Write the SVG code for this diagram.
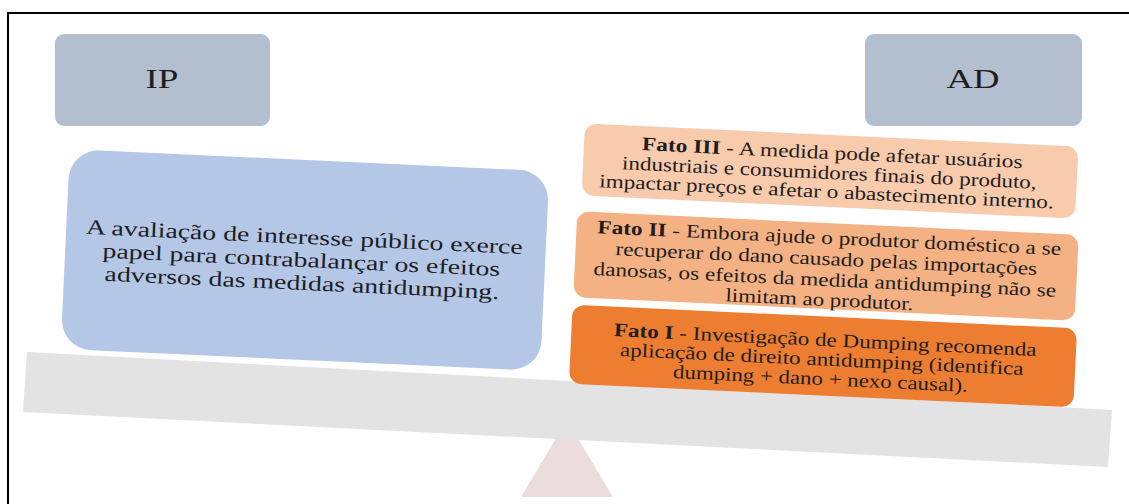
<svg xmlns="http://www.w3.org/2000/svg" width="1129" height="504" viewBox="0 0 1129 504">
<style>
.t{font-family:"Liberation Serif","Times New Roman",serif;fill:#1e1e1e}
.hdr{fill:#b3bfcf}
.f{font-size:19px}
.b{font-weight:bold}
</style>
<rect width="1129" height="504" fill="#ffffff"/>
<path d="M8 504 V13 H1129" fill="none" stroke="#000" stroke-width="2"/>
<g id="fulcrum">
<polygon points="567,420 613,497 521,497" fill="#eddcdc"/>
</g>
<g id="beam">
<polygon points="27,352 1112,410 1108,467 23,412" fill="#e3e3e3"/>
</g>
<g id="ip">
<rect class="hdr" x="55" y="34" width="215" height="92" rx="9"/>
<text class="t" x="162" y="88" font-size="28" text-anchor="middle" textLength="33" lengthAdjust="spacingAndGlyphs">IP</text>
</g>
<g id="ad">
<rect class="hdr" x="865" y="34" width="217" height="92" rx="9"/>
<text class="t" x="973" y="88" font-size="28" text-anchor="middle" textLength="53" lengthAdjust="spacingAndGlyphs">AD</text>
</g>
<g id="ip-text" transform="rotate(2.65 305 260)">
<rect x="65" y="160" width="480" height="200" rx="30" fill="#b4c7e7"/>
<text class="t" font-size="21" text-anchor="middle">
<tspan x="306" y="244" textLength="437" lengthAdjust="spacingAndGlyphs">A avaliação de interesse público exerce</tspan>
<tspan x="304" y="267" textLength="398" lengthAdjust="spacingAndGlyphs">papel para contrabalançar os efeitos</tspan>
<tspan x="303" y="290" textLength="395" lengthAdjust="spacingAndGlyphs">adversos das medidas antidumping.</tspan>
</text>
</g>
<g id="fato3" transform="rotate(2.7 830 171)">
<rect x="583" y="135" width="494" height="72" rx="12" fill="#f8cbad"/>
<text class="t f" x="831.5" y="159" text-anchor="middle" textLength="381" lengthAdjust="spacingAndGlyphs"><tspan class="b">Fato III</tspan> - A medida pode afetar usuários</text>
<text class="t f" x="829.5" y="179" text-anchor="middle" textLength="415" lengthAdjust="spacingAndGlyphs">industriais e consumidores finais do produto,</text>
<text class="t f" x="827.5" y="198" text-anchor="middle" textLength="455" lengthAdjust="spacingAndGlyphs">impactar preços e afetar o abastecimento interno.</text>
</g>
<g id="fato2" transform="rotate(2.7 826 266)">
<rect x="575" y="223" width="502" height="86" rx="12" fill="#f4b183"/>
<text class="t f" x="828" y="244" text-anchor="middle" textLength="464" lengthAdjust="spacingAndGlyphs"><tspan class="b">Fato II</tspan> - Embora ajude o produtor doméstico a se</text>
<text class="t f" x="826" y="265" text-anchor="middle" textLength="422" lengthAdjust="spacingAndGlyphs">recuperar do dano causado pelas importações</text>
<text class="t f" x="825.5" y="286" text-anchor="middle" textLength="463" lengthAdjust="spacingAndGlyphs">danosas, os efeitos da medida antidumping não se</text>
<text class="t f" x="821" y="306" text-anchor="middle" textLength="188" lengthAdjust="spacingAndGlyphs">limitam ao produtor.</text>
</g>
<g id="fato1" transform="rotate(2.7 823 356)">
<rect x="570.5" y="316.5" width="505" height="79" rx="12" fill="#ed7d31"/>
<text class="t f" x="824.5" y="346" text-anchor="middle" textLength="423" lengthAdjust="spacingAndGlyphs"><tspan class="b">Fato I</tspan> - Investigação de Dumping recomenda</text>
<text class="t f" x="822" y="365.5" text-anchor="middle" textLength="404" lengthAdjust="spacingAndGlyphs">aplicação de direito antidumping (identifica</text>
<text class="t f" x="821.5" y="385" text-anchor="middle" textLength="295" lengthAdjust="spacingAndGlyphs">dumping + dano + nexo causal).</text>
</g>
</svg>
